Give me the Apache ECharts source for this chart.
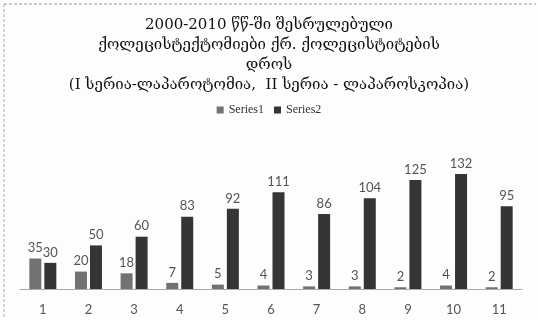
<!DOCTYPE html>
<html>
<head>
<meta charset="utf-8">
<script src="https://cdn.jsdelivr.net/npm/echarts@6/dist/echarts.min.js"></script>
<style>
  html, body { margin: 0; padding: 0; background: #fff; }
  #chart { width: 538px; height: 320px; }
</style>
</head>
<body>
<div id="chart"></div>
<script>
// Categories and series values
const categories = ['1', '2', '3', '4', '5', '6', '7', '8', '9', '10', '11'];
const series1 = [35, 20, 18, 7, 5, 4, 3, 3, 2, 4, 2];
const series2 = [30, 50, 60, 83, 92, 111, 86, 104, 125, 132, 95];
const seriesNames = ['Series1', 'Series2'];
const titleLines = [
  '2000-2010 წწ-ში შესრულებული',
  'ქოლეცისტექტომიები ქრ. ქოლეცისტიტების',
  'დროს',
  '(I სერია-ლაპაროტომია,  II სერია - ლაპაროსკოპია)'
];

const chart = echarts.init(document.getElementById('chart'));

const labelStyle = {
  show: true,
  position: 'top',
  distance: 4,
  color: '#555',
  fontFamily: 'Lato, "Open Sans", sans-serif',
  fontSize: 13
};

chart.setOption({
  backgroundColor: '#fdfdfd',
  animation: false,
  title: {
    text: titleLines.join('\n'),
    left: 'center',
    top: 10,
    textStyle: {
      fontFamily: '"DejaVu Serif", serif',
      fontSize: 15,
      fontWeight: 'normal',
      color: '#111',
      lineHeight: 20
    }
  },
  legend: {
    data: seriesNames,
    top: 99,
    left: 'center',
    itemWidth: 7,
    itemHeight: 7,
    itemGap: 10,
    icon: 'rect',
    textStyle: {
      fontFamily: '"Liberation Serif", serif',
      fontSize: 12,
      color: '#333'
    }
  },
  grid: { left: 20, right: 16, top: 167, bottom: 31 },
  xAxis: {
    type: 'category',
    data: categories,
    axisLine: { lineStyle: { color: '#aaa' } },
    axisTick: { show: false },
    axisLabel: {
      color: '#555',
      fontFamily: 'Lato, "Open Sans", sans-serif',
      fontSize: 13,
      margin: 14
    }
  },
  yAxis: {
    type: 'value',
    min: 0,
    max: 140,
    show: false
  },
  series: [
    {
      name: seriesNames[0],
      type: 'bar',
      data: series1,
      barWidth: 12,
      barGap: '25%',
      itemStyle: { color: '#727272' },
      label: labelStyle
    },
    {
      name: seriesNames[1],
      type: 'bar',
      data: series2,
      barWidth: 12,
      itemStyle: { color: '#353535' },
      label: labelStyle
    }
  ],
  graphic: [
    {
      type: 'line',
      shape: { x1: 4, y1: 4, x2: 536, y2: 4 },
      style: { stroke: '#999', lineWidth: 1, lineDash: [3, 2] }
    },
    {
      type: 'line',
      shape: { x1: 4, y1: 4, x2: 4, y2: 318 },
      style: { stroke: '#aaa', lineWidth: 1, lineDash: [3, 2] }
    }
  ]
});
</script>
</body>
</html>
